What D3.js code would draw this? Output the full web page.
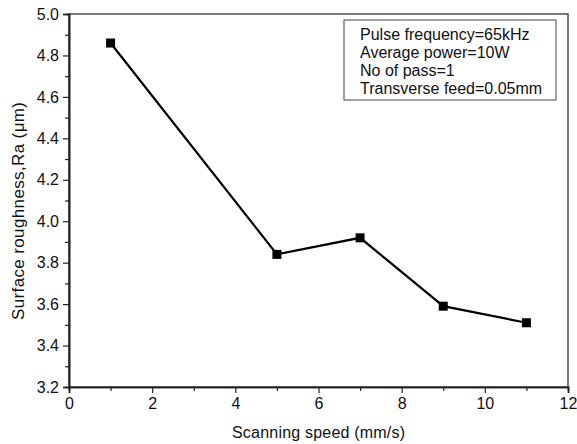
<!DOCTYPE html>
<html>
<head>
<meta charset="utf-8">
<script src="https://cdn.jsdelivr.net/npm/d3@7"></script>
<style>
  body { margin: 0; background: #fff; }
  text { font-family: "Liberation Sans", Arial, sans-serif; fill: #111; }
</style>
</head>
<body>
<div id="chart"></div>
<script>
// data
var speeds = [1, 5, 7, 9, 11];
var roughness = [4.86, 3.84, 3.92, 3.59, 3.51];
var xTicks = [0, 2, 4, 6, 8, 10, 12];
var yTicks = [3.2, 3.4, 3.6, 3.8, 4.0, 4.2, 4.4, 4.6, 4.8, 5.0];
var notes = ["Pulse frequency=65kHz", "Average power=10W", "No of pass=1", "Transverse feed=0.05mm"];

var svgWidth = 577;
var svgHeight = 444;
var margin = { top: 14, right: 9, bottom: 57, left: 69 };
var width = svgWidth - margin.left - margin.right;
var height = svgHeight - margin.top - margin.bottom;

var svg = d3.select("#chart").append("svg")
    .attr("width", svgWidth)
    .attr("height", svgHeight);

var chartGroup = svg.append("g")
    .attr("transform", `translate(${margin.left}, ${margin.top})`);

var xScale = d3.scaleLinear().domain([0, 12]).range([0, width]);
var yScale = d3.scaleLinear().domain([3.2, 5.0]).range([height, 0]);

// frame
chartGroup.append("rect")
    .attr("width", width)
    .attr("height", height)
    .attr("fill", "none")
    .attr("stroke", "#222")
    .attr("stroke-width", 1.2);

// minor ticks
var xMinor = d3.axisBottom(xScale).tickValues(d3.range(1, 12, 2)).tickSize(4).tickFormat("");
var yMinor = d3.axisLeft(yScale).tickValues(d3.range(3.3, 5.0, 0.2)).tickSize(4).tickFormat("");

chartGroup.append("g").attr("transform", `translate(0, ${height})`).call(xMinor);
chartGroup.append("g").call(yMinor);

// major axes
var bottomAxis = d3.axisBottom(xScale).tickValues(xTicks).tickSize(6).tickPadding(5).tickFormat(d3.format("d"));
var leftAxis = d3.axisLeft(yScale).tickValues(yTicks).tickSize(6).tickPadding(4).tickFormat(d3.format(".1f"));

chartGroup.append("g")
    .attr("transform", `translate(0, ${height})`)
    .call(bottomAxis);

chartGroup.append("g")
    .call(leftAxis);

chartGroup.selectAll(".domain").attr("stroke", "#222").attr("stroke-width", 1.6);
chartGroup.selectAll(".tick line").attr("stroke", "#222").attr("stroke-width", 1.2);
chartGroup.selectAll(".tick text").style("font-size", "16px").attr("fill", "#111");

// line
var points = speeds.map((s, i) => [s, roughness[i]]);
var line = d3.line().x(d => xScale(d[0])).y(d => yScale(d[1]));

chartGroup.append("path")
    .datum(points)
    .attr("d", line)
    .attr("fill", "none")
    .attr("stroke", "#000")
    .attr("stroke-width", 2.2);

chartGroup.selectAll(".marker")
    .data(points)
    .enter()
    .append("rect")
    .attr("class", "marker")
    .attr("x", d => xScale(d[0]) - 4.5)
    .attr("y", d => yScale(d[1]) - 4.5)
    .attr("width", 9)
    .attr("height", 9)
    .attr("fill", "#000");

// note box
var box = chartGroup.append("g").attr("transform", "translate(275, 6)");
box.append("rect")
    .attr("width", 212)
    .attr("height", 80)
    .attr("fill", "#fff")
    .attr("stroke", "#444")
    .attr("stroke-width", 1);

box.selectAll("text")
    .data(notes)
    .enter()
    .append("text")
    .attr("x", 16)
    .attr("y", (d, i) => 20 + i * 18)
    .style("font-size", "16px")
    .text(d => d);

// axis titles
svg.append("text")
    .attr("x", margin.left + width / 2)
    .attr("y", 438)
    .attr("text-anchor", "middle")
    .attr("textLength", 173)
    .style("font-size", "16px")
    .text("Scanning speed (mm/s)");

svg.append("text")
    .attr("transform", "translate(24, 211) rotate(-90)")
    .attr("text-anchor", "middle")
    .attr("textLength", 218)
    .style("font-size", "17px")
    .text("Surface roughness,Ra (\u03bcm)");
</script>
</body>
</html>
